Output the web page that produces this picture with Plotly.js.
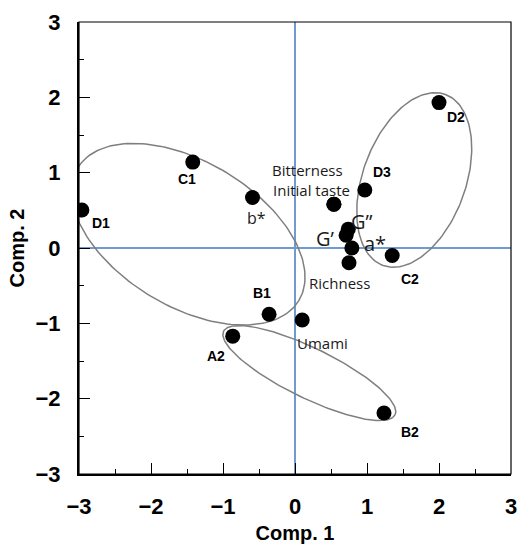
<!DOCTYPE html>
<html>
<head>
<meta charset="utf-8">
<script src="https://cdn.plot.ly/plotly-3.0.1.min.js"></script>
<style>html,body{margin:0;padding:0;background:#fff;}#chart{width:520px;height:549px;}</style>
</head>
<body>
<div id="chart"></div>
<script>
// Sample points (bold labels)
const sampleNames = ['D1', 'C1', 'B1', 'A2', 'B2', 'C2', 'D2', 'D3'];
const sampleX = [-2.96, -1.42, -0.36, -0.865, 1.236, 1.35, 2.0, 0.97];
const sampleY = [0.505, 1.14, -0.88, -1.17, -2.19, -0.10, 1.93, 0.77];
const sampleDX = [19, -6, -7, -17, 26, 18, 17, 17];
const sampleDY = [-13, -17, 21, -20, -19, -23, -14, 18];

// Attribute points (regular labels)
const attrNames = ['b*', 'Bitterness', 'Initial taste', 'G\u201D', 'G\u2019', 'a*', 'Richness', 'Umami'];
const attrX = [-0.59, 0.54, 0.54, 0.74, 0.71, 0.79, 0.75, 0.10];
const attrY = [0.67, 0.58, 0.58, 0.25, 0.17, 0.00, -0.195, -0.956];
const attrDX = [4, -26, -22, 14, -21, 23, -10, 20];
const attrDY = [-20, 34, 14, 8, -3, 5, -20, -23];
const attrSize = [16, 15, 15, 20, 20, 20, 15, 15];

// Grouping ellipses: centre and two conjugate semi-axis vectors (data units)
const ellCX = [-1.482, 1.656, 0.199];
const ellCY = [0.183, 0.903, -1.660];
const ellUX = [1.537, 0.433, 1.191];
const ellUY = [-0.878, 1.135, -0.554];
const ellVX = [-0.516, 0.671, -0.152];
const ellVY = [-0.826, -0.234, -0.299];

const tickVals = [-3, -2, -1, 0, 1, 2, 3];

const traces = [];
for (let k = 0; k < ellCX.length; k++) {
  const ex = [], ey = [];
  for (let i = 0; i <= 180; i++) {
    const t = 2 * Math.PI * i / 180;
    ex.push(ellCX[k] + ellUX[k] * Math.cos(t) + ellVX[k] * Math.sin(t));
    ey.push(ellCY[k] + ellUY[k] * Math.cos(t) + ellVY[k] * Math.sin(t));
  }
  traces.push({x: ex, y: ey, mode: 'lines', line: {color: '#7f7f7f', width: 1.5},
    hoverinfo: 'skip', showlegend: false, cliponaxis: false});
}
traces.push({x: sampleX, y: sampleY, mode: 'markers', text: sampleNames,
  marker: {color: '#000', size: 15}, showlegend: false});
traces.push({x: attrX, y: attrY, mode: 'markers', text: attrNames,
  marker: {color: '#000', size: 15}, showlegend: false});

const annotations = [];
sampleNames.forEach((n, i) => annotations.push({
  x: sampleX[i], y: sampleY[i], xref: 'x', yref: 'y', text: n, showarrow: false,
  xshift: sampleDX[i], yshift: sampleDY[i],
  font: {family: 'Liberation Sans, Arial, sans-serif', size: 14, weight: 'bold', color: '#000'}
}));
attrNames.forEach((n, i) => annotations.push({
  x: attrX[i], y: attrY[i], xref: 'x', yref: 'y', text: n, showarrow: false,
  xshift: attrDX[i], yshift: attrDY[i],
  font: {family: 'Open Sans, Noto Sans, sans-serif', size: attrSize[i], color: '#1a1a1a'}
}));

const axisCommon = {
  range: [-3, 3], tickvals: tickVals, ticktext: tickVals.map(v => v < 0 ? '\u2212' + Math.abs(v) : String(v)),
  ticks: 'inside', ticklen: 11, tickwidth: 1, tickcolor: '#000',
  minor: {dtick: 0.5, tick0: 0, ticks: 'inside', ticklen: 5, tickwidth: 1, tickcolor: '#000', showgrid: false},
  showline: true, linecolor: '#000', linewidth: 2, mirror: false,
  showgrid: false, zeroline: true, zerolinecolor: '#6f9bd0', zerolinewidth: 1.5,
  tickfont: {family: 'Liberation Sans, Arial, sans-serif', size: 22, weight: 'bold', color: '#000'},
  ticklabelstandoff: 12, fixedrange: true
};

const layout = {
  width: 520, height: 549,
  margin: {l: 79, r: 9, t: 22, b: 75},
  paper_bgcolor: '#fff', plot_bgcolor: '#fff',
  showlegend: false,
  xaxis: Object.assign({}, axisCommon, {
    title: {text: 'Comp. 1', standoff: 8,
      font: {family: 'Liberation Sans, Arial, sans-serif', size: 20, weight: 'bold', color: '#000'}}
  }),
  yaxis: Object.assign({}, axisCommon, {
    title: {text: 'Comp. 2', standoff: 6,
      font: {family: 'Liberation Sans, Arial, sans-serif', size: 20, weight: 'bold', color: '#000'}}
  }),
  shapes: [{type: 'rect', xref: 'paper', yref: 'paper', x0: 0, x1: 1, y0: 0, y1: 1,
    line: {color: '#000', width: 1.2}, layer: 'above'}],
  annotations: annotations
};

Plotly.newPlot('chart', traces, layout, {displayModeBar: false, staticPlot: true});
</script>
</body>
</html>
